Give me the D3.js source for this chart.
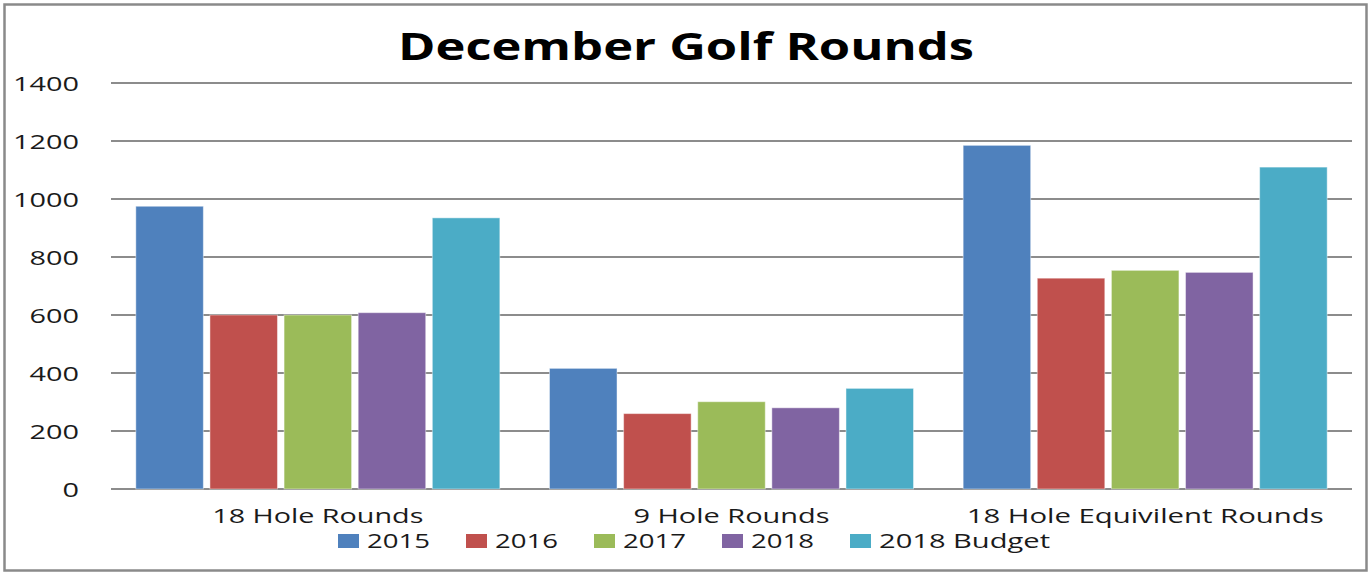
<!DOCTYPE html>
<html>
<head>
<meta charset="utf-8">
<script src="https://cdn.jsdelivr.net/npm/d3@7"></script>
<style>
  html, body { margin: 0; padding: 0; background: #ffffff; }
  svg { display: block; }
  text { font-family: "Open Sans", "DejaVu Sans", sans-serif; fill: #1a1a1a; }
</style>
</head>
<body>
<svg id="chart" width="1370" height="574"></svg>
<script>
// Chart data
const categories = ["18 Hole Rounds", "9 Hole Rounds", "18 Hole Equivilent Rounds"];
const seriesNames = ["2015", "2016", "2017", "2018", "2018 Budget"];
const values2015 = [975, 416, 1185];
const values2016 = [600, 260, 727];
const values2017 = [600, 301, 754];
const values2018 = [608, 280, 747];
const valuesBudget = [935, 347, 1110];
const seriesColors = ["#4F81BD", "#C0504D", "#9BBB59", "#8064A2", "#4BACC6"];
const yTicks = [0, 200, 400, 600, 800, 1000, 1200, 1400];
const titleText = "December Golf Rounds";

const seriesValues = [values2015, values2016, values2017, values2018, valuesBudget];

const svg = d3.select("#chart");
const W = 1370, H = 574;
const plot = { left: 111, right: 1352, top: 83, bottom: 489 };

// outer frame
svg.append("rect")
  .attr("x", 4.5).attr("y", 4.5)
  .attr("width", 1362).attr("height", 566)
  .attr("fill", "#ffffff")
  .attr("stroke", "#8a8a8a")
  .attr("stroke-width", 2.5);

// title
svg.append("text")
  .attr("x", 686).attr("y", 60)
  .attr("text-anchor", "middle")
  .attr("font-size", 38)
  .attr("font-weight", "bold")
  .attr("textLength", 576)
  .attr("lengthAdjust", "spacingAndGlyphs")
  .style("fill", "#000")
  .text(titleText);

// scales
const y = d3.scaleLinear().domain([0, 1400]).range([plot.bottom, plot.top]);
const x0 = d3.scaleBand().domain(categories).range([plot.left, plot.right]).padding(0);
const edge = x0.bandwidth() * 0.06;
const x1 = d3.scaleBand().domain(seriesNames)
  .range([edge, x0.bandwidth() - edge])
  .paddingInner(0.089).paddingOuter(0);

// gridlines
svg.append("g")
  .selectAll("line")
  .data(yTicks)
  .join("line")
  .attr("x1", plot.left).attr("x2", plot.right)
  .attr("y1", d => y(d)).attr("y2", d => y(d))
  .attr("stroke", "#8c8c8c")
  .attr("stroke-width", 2);

// y axis labels (drawn with axisLeft, domain and tick lines hidden)
const yAxis = svg.append("g")
  .attr("transform", `translate(${plot.left},0)`)
  .call(d3.axisLeft(y).tickValues(yTicks).tickSize(0).tickPadding(32).tickFormat(d3.format("d")));
yAxis.select(".domain").remove();
yAxis.selectAll("text")
  .attr("font-size", 20)
  .attr("font-family", null)
  .attr("dy", "0.36em")
  .attr("textLength", d => String(d).length * 16.5)
  .attr("lengthAdjust", "spacingAndGlyphs")
  .style("fill", "#1a1a1a");

// bars
const groups = svg.append("g")
  .selectAll("g")
  .data(categories)
  .join("g")
  .attr("transform", d => `translate(${x0(d)},0)`);

groups.selectAll("rect")
  .data((c, ci) => seriesNames.map((s, si) => ({ s, si, v: seriesValues[si][ci] })))
  .join("rect")
  .attr("x", d => x1(d.s))
  .attr("width", x1.bandwidth())
  .attr("y", d => y(d.v))
  .attr("height", d => y(0) - y(d.v))
  .attr("fill", d => seriesColors[d.si])
  .attr("stroke", "rgba(255,255,255,0.45)")
  .attr("stroke-width", 1);

// category labels
const catWidths = [211, 196, 357];
svg.append("g")
  .selectAll("text")
  .data(categories)
  .join("text")
  .attr("x", d => x0(d) + x0.bandwidth() / 2)
  .attr("y", 523)
  .attr("text-anchor", "middle")
  .attr("font-size", 20)
  .attr("textLength", (d, i) => catWidths[i])
  .attr("lengthAdjust", "spacingAndGlyphs")
  .text(d => d);

// legend
const legendTextWidths = [63, 63, 63, 63, 171];
let lx = 338;
const legend = svg.append("g");
seriesNames.forEach((name, i) => {
  legend.append("rect")
    .attr("x", lx).attr("y", 534)
    .attr("width", 21).attr("height", 14)
    .attr("fill", seriesColors[i]);
  legend.append("text")
    .attr("x", lx + 29).attr("y", 548)
    .attr("font-size", 20)
    .attr("textLength", legendTextWidths[i])
    .attr("lengthAdjust", "spacingAndGlyphs")
    .text(name);
  lx += 29 + legendTextWidths[i] + 36;
});
</script>
</body>
</html>
